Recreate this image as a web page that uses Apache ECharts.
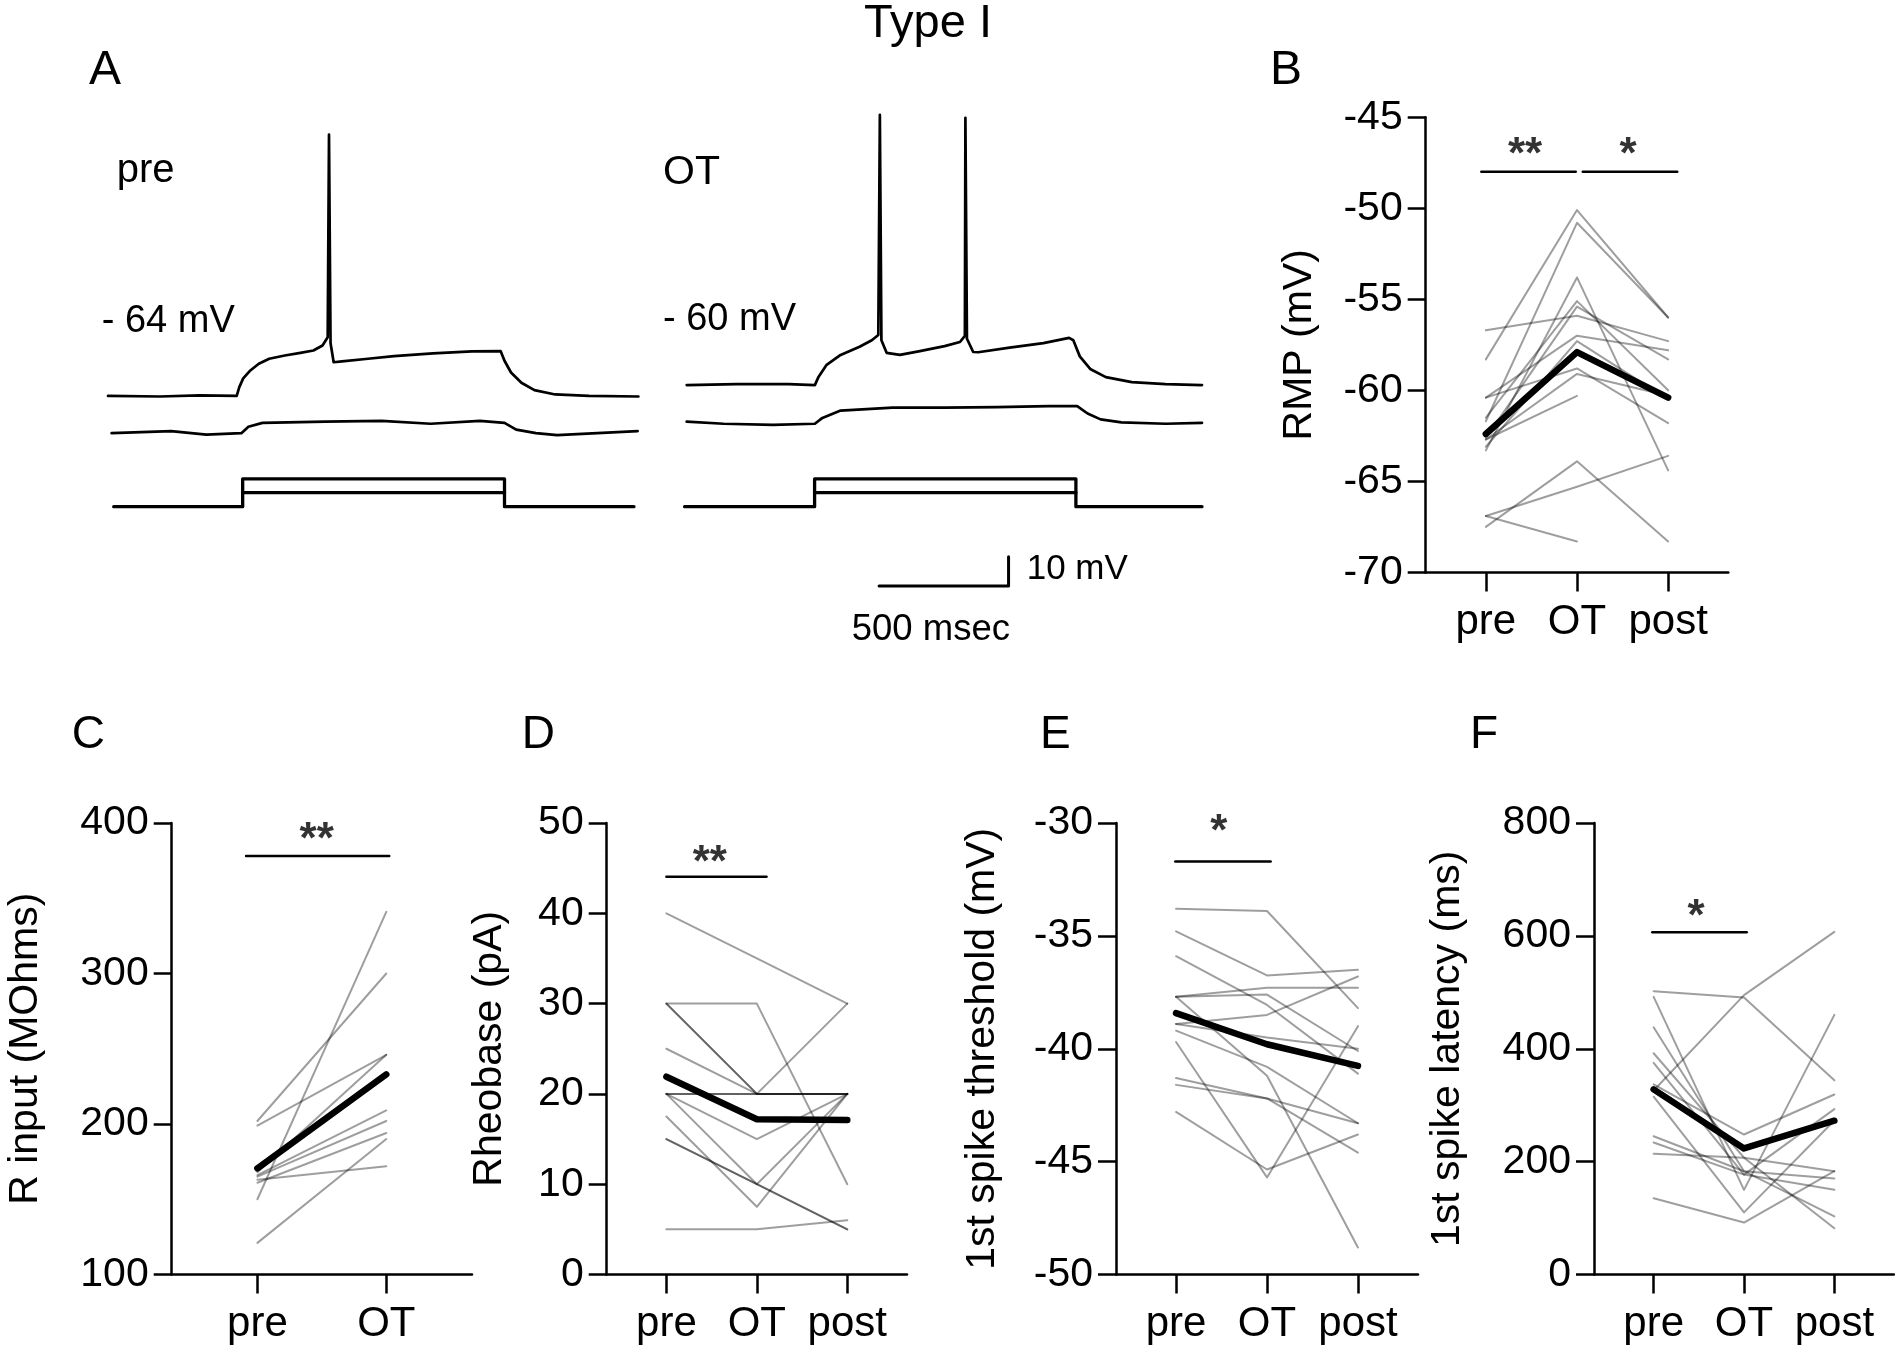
<!DOCTYPE html>
<html><head><meta charset="utf-8">
<script src="https://cdn.jsdelivr.net/npm/echarts@6/dist/echarts.min.js"></script>
<style>html,body{margin:0;padding:0;background:#fff}#c{width:1895px;height:1347px}</style>
</head><body><div id="c"></div>
<script>
const FONT = '"Liberation Sans", Arial, Helvetica, sans-serif';

// ---------- categories ----------
const X3 = ['pre', 'OT', 'post'];
const X2 = ['pre', 'OT'];

// ---------- Panel A traces: [time ms, mV (display)] ----------
const aPreV1 = [[0,-64.0],[200,-64.2],[350,-63.8],[495,-64.0],[505,-61.0],[520,-58.0],[545,-55.5],[580,-53.0],[620,-51.3],[680,-50.2],[740,-49.3],[790,-48.5],[825,-46.8],[845,-44.0],[850,25.2],[856,-46.0],[868,-52.5],[900,-52.2],[1000,-51.3],[1100,-50.4],[1250,-49.5],[1400,-48.8],[1510,-48.7],[1525,-52.0],[1550,-56.0],[1590,-59.5],[1640,-62.0],[1720,-63.5],[1850,-64.0],[2040,-64.2]];
const aPreV2 = [[14,-76.7],[243,-76.0],[378,-77.2],[513,-76.7],[540,-74.5],[594,-73.2],[836,-72.8],[1052,-72.5],[1241,-73.5],[1430,-72.5],[1525,-73.2],[1570,-75.5],[1646,-76.7],[1727,-77.4],[2037,-76.0]];
const aPreStepHi = [[22,-101.8],[518,-101.8],[518,-92.3],[1525,-92.3],[1525,-101.8],[2023,-101.8]];
const aPreStepLo = [[518,-97.0],[1525,-97.0]];

const aOtV1 = [[8,-60.3],[200,-60.0],[400,-60.0],[501,-60.3],[515,-57.5],[545,-53.5],[600,-50.0],[673,-47.2],[720,-45.0],[745,-43.2],[751,31.9],[757,-45.0],[777,-49.3],[828,-50.0],[900,-48.8],[1000,-47.0],[1059,-45.6],[1078,-43.5],[1080,30.9],[1086,-44.5],[1110,-49.0],[1129,-49.1],[1250,-47.5],[1380,-46.0],[1479,-44.2],[1495,-45.0],[1520,-50.5],[1560,-54.8],[1620,-57.6],[1720,-59.3],[1850,-60.0],[1990,-60.3]];
const aOtV2 = [[8,-72.8],[150,-73.5],[340,-73.9],[501,-73.5],[530,-71.5],[600,-69.0],[800,-68.0],[1000,-68.0],[1200,-67.8],[1400,-67.5],[1510,-67.5],[1550,-70.0],[1600,-72.0],[1680,-73.0],[1850,-73.5],[1990,-73.2]];
const aOtStepHi = [[0,-101.8],[500,-101.8],[500,-92.3],[1505,-92.3],[1505,-101.8],[1990,-101.8]];
const aOtStepLo = [[500,-97.0],[1505,-97.0]];
const aScaleBar = [[748,-128.9],[1246,-128.9],[1246,-118.9]]; // 500 ms x 10 mV

// ---------- Panel B: RMP (mV) pre / OT / post ----------
const rmpCells = [
  [-58.3,-50.1,-56.0],[-61.7,-50.8,-56.0],[-56.7,-55.9,-57.3],[-63.3,-53.8,-64.4],
  [-61.5,-55.1,-60.0],[-62.6,-55.4,-58.3],[-60.4,-57.0,-57.8],[-63.1,-57.3,-60.5],
  [-60.4,-58.8,-61.8],[-62.7,-59.1,-60.3],[-62.7,-60.3,null],[-67.5,-63.9,-68.3],
  [-66.9,-65.3,-63.6],[-66.9,-68.3,null]
];
const rmpMean = [-62.4,-57.9,-60.4];
const rmpTicks = [-70,-45,5];

// ---------- Panel C: R input (MOhms) pre / OT ----------
const rinCells = [
  [202,300],[199,246],[150,341],[121,190],[163,172],[166,209],[165,202],[161,194],[168,246]
];
const rinMean = [170.5,233];
const rinTicks = [100,400,100];

// ---------- Panel D: Rheobase (pA) ----------
const rheoCells = [
  [40,35,30],[30,30,10],[30,20,20],[30,20,20],[25,20,30],[20,20,20],[20,20,20],
  [20,15,20],[20,10,20],[17.5,7.5,20],[15,10,5],[15,10,5],[5,5,6]
];
const rheoMean = [21.9,17.2,17.1];
const rheoTicks = [0,50,10];

// ---------- Panel E: 1st spike threshold (mV) ----------
const thrCells = [
  [-33.8,-33.9,-38.2],[-34.8,-36.75,-36.5],[-35.9,-38.06,-41.1],[-37.7,-37.3,-37.3],
  [-37.7,-37.6,-40.1],[-37.7,-41.2,-48.8],[-38.9,-38.5,-36.8],[-39.2,-40.8,-43.3],
  [-39.7,-45.7,-39.0],[-41.3,-42.2,-43.3],[-41.6,-42.2,-44.6],[-42.8,-45.35,-43.8],
  [-38.9,-39.5,-40.0]
];
const thrMean = [-38.42,-39.8,-40.76];
const thrTicks = [-50,-30,5];

// ---------- Panel F: 1st spike latency (ms) ----------
const latCells = [
  [502,491,344],[326,495,607],[492,150,460],[438,183,103],[392,207,82],[375,177,293],
  [337,248,319],[315,110,273],[245,183,170],[234,177,150],[214,207,183],[135,92,183]
];
const latMean = [328,223.4,272.5];
const latTicks = [0,800,200];

// ---------- significance annotations: [x1, x2, barY, starX, starY, text] ----------
const sigB = [[-0.05,0.986,-48.0,0.43,-47.1,'**'],[1.063,2.1,-48.0,1.56,-47.1,'*']];
const sigC = [[-0.088,1.023,378,0.46,388,'**']];
const sigD = [[0,1.107,44.06,0.48,45.5,'**']];
const sigE = [[-0.008,1.04,-31.71,0.47,-30.45,'*']];
const sigF = [[-0.015,1.03,606.6,0.47,632,'*']];

// ---------- layout ----------
const grids = [
  {left:108, top:100, width:530.4, height:503.96},   // A pre
  {left:684.6, top:100, width:520, height:503.96},   // A OT
  {left:1425.7, top:117.2, width:302.6, height:455.2}, // B
  {left:171.7, top:823, width:300.3, height:451.5},  // C
  {left:606.7, top:823, width:300.3, height:451.5},  // D
  {left:1116, top:823, width:302, height:451.5},     // E
  {left:1594, top:823, width:300, height:451.5}      // F
].map(g => Object.assign({outerBoundsMode:'none', containLabel:false}, g));

function xCat(gi, cats, min, max) {
  const vals = cats.map((c,i)=>i);
  return {type:'value', gridIndex:gi, min:min, max:max,
    axisLine:{show:true, onZero:false, lineStyle:{color:'#000', width:2.5}},
    axisTick:{show:true, length:19, lineStyle:{color:'#000', width:2.5}, customValues:vals},
    axisLabel:{show:true, margin:29, fontSize:42, color:'#000', fontFamily:FONT, customValues:vals,
      formatter: v => cats[Math.round(v)] || ''},
    splitLine:{show:false}};
}
function yVal(gi, t, name, gap) {
  return {type:'value', gridIndex:gi, min:t[0], max:t[1], interval:t[2],
    name:name, nameLocation:'middle', nameGap:gap,
    nameTextStyle:{fontSize:41, color:'#000', fontFamily:FONT},
    axisLine:{show:true, onZero:false, lineStyle:{color:'#000', width:2.5}},
    axisTick:{show:true, length:18, lineStyle:{color:'#000', width:2.5}},
    axisLabel:{margin:23, fontSize:41, color:'#000', fontFamily:FONT},
    splitLine:{show:false}};
}
function hidden(gi, min, max) {
  return {type:'value', gridIndex:gi, min:min, max:max, show:false,
    axisLine:{show:false}, axisTick:{show:false}, axisLabel:{show:false}, splitLine:{show:false}};
}

const xAxes = [hidden(0,0,2040), hidden(1,0,2000), xCat(2,X3,-0.66,2.66), xCat(3,X2,-0.665,1.665),
  xCat(4,X3,-0.66,2.66), xCat(5,X3,-0.66,2.66), xCat(6,X3,-0.66,2.66)];
const yAxes = [hidden(0,-135,37), hidden(1,-135,37),
  yVal(2, rmpTicks, 'RMP (mV)', 106),
  yVal(3, rinTicks, 'R input (MOhms)', 126),
  yVal(4, rheoTicks, 'Rheobase (pA)', 97),
  yVal(5, thrTicks, '1st spike threshold (mV)', 113),
  yVal(6, latTicks, '1st spike latency (ms)', 126)];

const series = [];
function line(gi, data, color, width, z) {
  series.push({type:'line', xAxisIndex:gi, yAxisIndex:gi, data:data, showSymbol:false, symbol:'none',
    silent:true, animation:false, z:z||2, lineStyle:{color:color, width:width, cap:'round', join:'round'}});
}
function traces(gi, list, width) { list.forEach(d => line(gi, d, '#000', width, 3)); }
traces(0, [aPreV1, aPreV2], 2.7); traces(0, [aPreStepHi, aPreStepLo], 3.3);
traces(1, [aOtV1, aOtV2], 2.7); traces(1, [aOtStepHi, aOtStepLo], 3.3);
line(1, aScaleBar, '#000', 3, 3);

function panel(gi, cells, mean, sig) {
  cells.forEach(row => line(gi, row.map((v,i)=> v==null ? null : [i,v]).filter(Boolean), 'rgba(0,0,0,0.38)', 2, 2));
  line(gi, mean.map((v,i)=>[i,v]), '#000', 6.5, 4);
  sig.forEach(s => {
    line(gi, [[s[0],s[2]],[s[1],s[2]]], '#000', 2.5, 4);
    series.push({type:'scatter', xAxisIndex:gi, yAxisIndex:gi, data:[[s[3],s[4]]], symbolSize:1,
      itemStyle:{color:'rgba(0,0,0,0)'}, silent:true, animation:false, z:5,
      label:{show:true, position:'inside', formatter:s[5], fontSize:44, fontWeight:'bold', color:'#000', fontFamily:FONT}});
  });
}
panel(2, rmpCells, rmpMean, sigB);
panel(3, rinCells, rinMean, sigC);
panel(4, rheoCells, rheoMean, sigD);
panel(5, thrCells, thrMean, sigE);
panel(6, latCells, latMean, sigF);

// ---------- text labels: [text, x, yMiddle, fontSize, align] ----------
const TEXTS = [
  ['Type I', 928, 24, 47, 'center'],
  ['A', 89, 71, 48, 'left'], ['B', 1270, 71, 48, 'left'],
  ['C', 71.7, 735.5, 46, 'left'], ['D', 521.7, 735.5, 46, 'left'],
  ['E', 1040, 735.5, 46, 'left'], ['F', 1470, 735.5, 46, 'left'],
  ['pre', 116.7, 171, 40, 'left'], ['OT', 663, 172.6, 41, 'left'],
  ['- 64 mV', 101.7, 321.7, 38, 'left'], ['- 60 mV', 663, 319.7, 38, 'left'],
  ['10 mV', 1026.7, 569.5, 35, 'left'], ['500 msec', 851.7, 630.2, 36.5, 'left']
];
const graphic = TEXTS.map(t => ({type:'text', x:t[1], y:t[2], silent:true,
  style:{text:t[0], fontSize:t[3], fontFamily:FONT, fill:'#000',
    align:t[4], textAlign:t[4], verticalAlign:'middle', textVerticalAlign:'middle'}}));

const chart = echarts.init(document.getElementById('c'), null, {renderer:'canvas', width:1895, height:1347});
chart.setOption({
  backgroundColor:'#fff', animation:false,
  grid:grids, xAxis:xAxes, yAxis:yAxes, series:series, graphic:graphic
});
</script></body></html>
